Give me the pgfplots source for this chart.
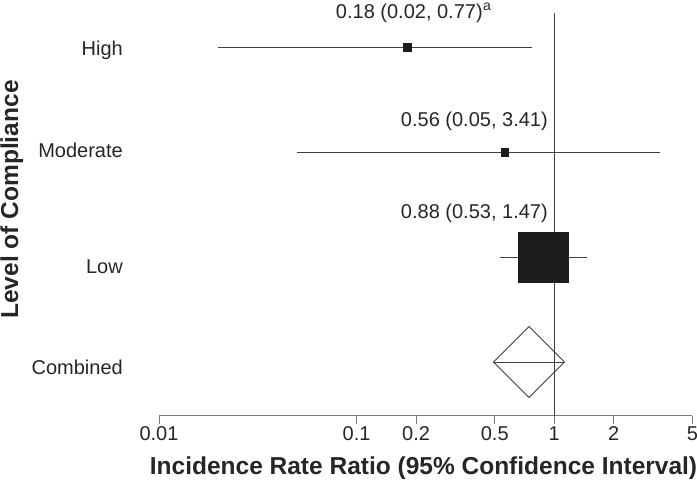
\documentclass[border=0pt]{standalone}
\usepackage{fontspec}
\setmainfont{Liberation Sans}
\usepackage{pgfplots}
\pgfplotsset{compat=1.18}
\definecolor{linec}{HTML}{404040}
\definecolor{axc}{HTML}{7A7A7A}
\definecolor{boxc}{HTML}{1C1C1C}
\begin{document}
\begin{tikzpicture}
\path[use as bounding box] (-159bp,-68.5bp) rectangle (538bp,415.5bp);
\begin{axis}[
  at={(0,0)}, anchor=south west,
  scale only axis, width=533.4bp, height=402.8bp,
  xmode=log, xmin=0.01, xmax=5, ymin=68.5, ymax=471.3,
  axis x line*=bottom, axis y line*=left,
  y axis line style={draw=none},
  x axis line style={color=axc, line width=0.9bp},
  xtick={0.01,0.1,0.2,0.5,1,2,5},
  xticklabels={0.01,0.1,0.2,0.5,1,2,5},
  minor xtick={},
  tick align=outside,
  xtick style={color=axc, line width=0.9bp},
  major tick length=8bp,
  /pgf/number format/assume math mode=true,
  xticklabel style={font=\fontsize{20bp}{24bp}\selectfont, color=black!85, anchor=base, inner sep=0pt, yshift=-17bp},
  ytick={436,334,218,117},
  yticklabels={High,Moderate,Low,Combined},
  ytick style={draw=none},
  yticklabel style={font=\fontsize{20bp}{24bp}\selectfont, color=black!85, anchor=base east, inner sep=0pt, xshift=-28bp, yshift=-7.2bp},
  xlabel={Incidence Rate Ratio (95\% Confidence Interval)},
  xlabel style={font=\bfseries\fontsize{24.5bp}{28bp}\selectfont, color=black!85, at={(axis description cs:0.4959,-0.1477)}, anchor=base, inner sep=0pt},
  ylabel={Level of Compliance},
  ylabel style={font=\bfseries\fontsize{24.5bp}{28bp}\selectfont, color=black!85, at={(axis description cs:-0.2643,0.5363)}, anchor=base, rotate=0, inner sep=0pt},
  clip=false,
]
% reference line at 1
\addplot[color=linec, line width=0.9bp] coordinates {(1,68.5) (1,471.3)};
% confidence intervals
\addplot[color=linec, line width=0.9bp] coordinates {(0.02,436.7) (0.77,436.7)};
\addplot[color=linec, line width=0.9bp] coordinates {(0.05,331.7) (3.41,331.7)};
\addplot[color=linec, line width=0.9bp] coordinates {(0.53,226.7) (1.47,226.7)};
\addplot[color=linec, line width=0.9bp] coordinates {(0.49,122) (1.12,122)};
% point estimates
\addplot[only marks, mark=square*, mark size=4.3bp, mark options={fill=boxc, draw=boxc}] coordinates {(0.18,436.7)};
\addplot[only marks, mark=square*, mark size=3.6bp, mark options={fill=boxc, draw=boxc}] coordinates {(0.56,331.7)};
\addplot[only marks, mark=square*, mark size=25bp, mark options={fill=boxc, draw=boxc}] coordinates {(0.88,226.7)};
\addplot[only marks, mark=square, mark size=25.1bp, mark options={rotate=45, draw=linec, line width=0.9bp}] coordinates {(0.745,122)};
% annotations
\node[anchor=base east, inner sep=0pt, font=\fontsize{20bp}{24bp}\selectfont, color=black!85] at (axis cs:0.4356,465.7) {0.18 (0.02, 0.77)};
\node[anchor=base west, inner sep=0pt, font=\fontsize{20bp}{24bp}\selectfont, color=black!85] at (axis cs:0.4356,465.7) {\textsuperscript{a}};
\node[anchor=base east, inner sep=0pt, font=\fontsize{20bp}{24bp}\selectfont, color=black!85] at (axis cs:0.929,357) {0.56 (0.05, 3.41)};
\node[anchor=base east, inner sep=0pt, font=\fontsize{20bp}{24bp}\selectfont, color=black!85] at (axis cs:0.929,265) {0.88 (0.53, 1.47)};
\end{axis}
\end{tikzpicture}
\end{document}
